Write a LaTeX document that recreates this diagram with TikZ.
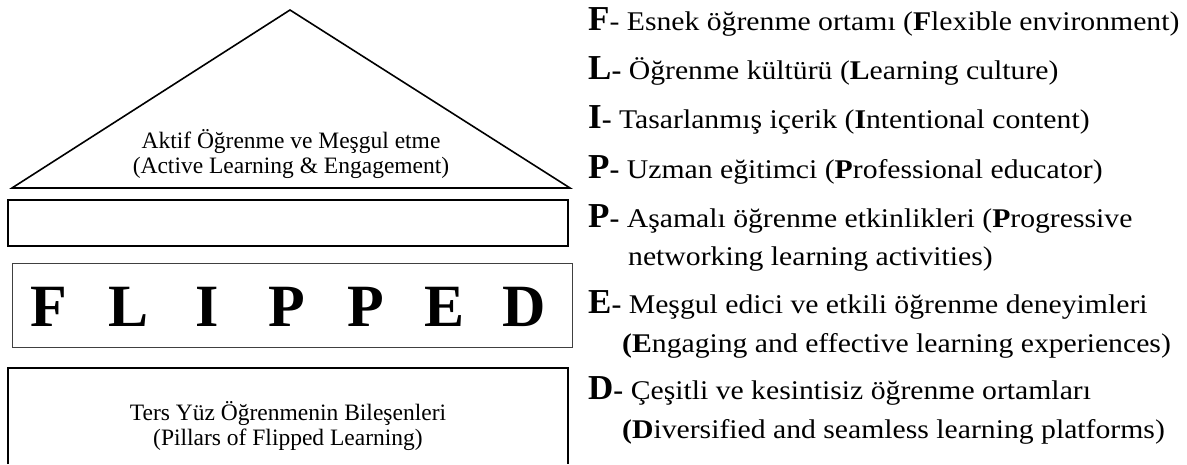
\documentclass[tikz,border=0pt]{standalone}
\usepackage{fontspec}
\setmainfont{Liberation Serif}
\newfontfamily\legendfont[FakeStretch=1.1]{Liberation Serif}
\usetikzlibrary{calc}
\newcommand{\ini}[1]{{\rmfamily\fontsize{35}{35}\selectfont\bfseries #1}}

\begin{document}
\begin{tikzpicture}[x=1pt,y=1pt,
		roof/.style={draw, line width=1.6pt, line join=miter},
		thick box/.style={draw, line width=1.6pt, inner sep=0pt},
		thin box/.style={draw=black!75, line width=0.9pt, inner sep=0pt},
		caption/.style={align=center, font=\fontsize{23.5}{24.5}\selectfont},
		pillar/.style={anchor=base, inner sep=0pt, font=\fontsize{60}{60}\selectfont\bfseries},
		item/.style={anchor=base west, inner sep=0pt, font=\legendfont\fontsize{27}{30}\selectfont}]
	\useasboundingbox (0,0) rectangle (1187,464);

	% roof
	\coordinate (apex) at (290,454);
	\coordinate (eaveL) at (12,276);
	\coordinate (eaveR) at (570,276);
	\draw[roof] (eaveL) -- (apex) -- (eaveR) -- cycle;
	\node[caption] (active) at (291,310) {Aktif Öğrenme ve Meşgul etme\\(Active Learning \& Engagement)};

	% beam and letters
	\node[thick box, minimum width=560, minimum height=46] (beam) at (288,241) {};
	\node[thin box, minimum width=560, minimum height=84] (letters) at (292,159) {};
	\foreach \l [count=\i] in {F,L,I,P,P,E,D}
		\node[pillar] (p\i) at ({49+79.2*(\i-1)},137) {\l};

	% foundation, open at the bottom
	\node[minimum width=560, minimum height=96, inner sep=0pt] (foundation) at (288,48) {};
	\draw[line width=1.6pt] (foundation.south west) -- (foundation.north west)
		-- (foundation.north east) -- (foundation.south east);
	\node[caption] (pillars) at (288,38) {Ters Yüz Öğrenmenin Bileşenleri\\(Pillars of Flipped Learning)};

	% legend
	\node[item] (f) at (588,433) {\ini{F}- Esnek öğrenme ortamı (\textbf{F}lexible environment)};
	\node[item] (l) at (588,384) {\ini{L}\textbf{-} Öğrenme kültürü (\textbf{L}earning culture)};
	\node[item] (i) at (588,335) {\ini{I}\textbf{-} Tasarlanmış içerik (\textbf{I}ntentional content)};
	\node[item] (p) at (588,285) {\ini{P}\textbf{-} Uzman eğitimci (\textbf{P}rofessional educator)};
	\node[item] (pp) at (588,236) {\ini{P}\textbf{-} Aşamalı öğrenme etkinlikleri (\textbf{P}rogressive};
	\node[item] (pp2) at (628,198) {networking learning activities)};
	\node[item] (e) at (588,150) {\ini{E}\textbf{-} Meşgul edici ve etkili öğrenme deneyimleri};
	\node[item] (e2) at (622,111) {\textbf{(E}ngaging and effective learning experiences)};
	\node[item] (d) at (588,65) {\ini{D}\textbf{-} Çeşitli ve kesintisiz öğrenme ortamları};
	\node[item] (d2) at (622,26) {\textbf{(D}iversified and seamless learning platforms)};
\end{tikzpicture}
\end{document}
